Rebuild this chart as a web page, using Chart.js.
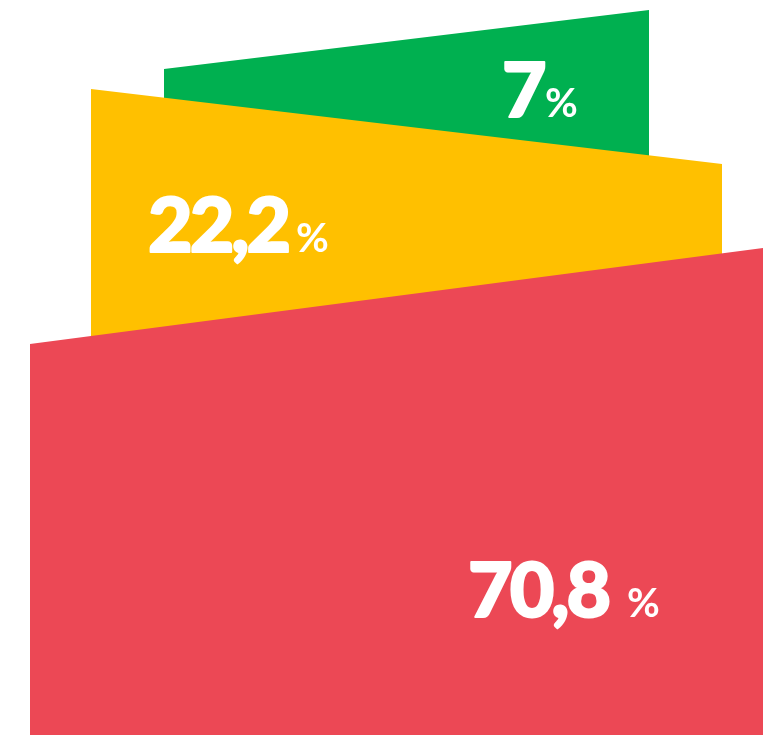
<!DOCTYPE html>
<html>
<head>
<meta charset="utf-8">
<script src="https://cdn.jsdelivr.net/npm/chart.js@4/dist/chart.umd.min.js"></script>
<style>
  html, body { margin: 0; padding: 0; background: #fff; }
  #wrap { width: 763px; height: 735px; position: relative; }
</style>
</head>
<body>
<div id="wrap"><canvas id="shares"></canvas></div>
<script>
// values shown on the slabs (top of file, plain arrays)
const labels = ['70,8', '22,2', '7'];
const shares = [70.8, 22.2, 7];
const colors = ['#EC4855', '#FFC000', '#00B050'];

// each slab is a slanted line filled down to the bottom of the plot
// (plot units: x 0..763 left to right, y 0..735 bottom to top)
const slabLeft = [30, 91, 164];
const slabRight = [763, 722, 649];
const topAtLeft = [391, 646, 666];
const topAtRight = [487, 571, 725];

// where the number label sits (left edge, baseline)
const labelX = [468, 148, 502];
const labelY = [118, 483, 618];
// left edge of the "%" sign
const pctX = [627, 296, 545];

const datasets = labels.map((name, i) => ({
  label: name + ' %',
  data: [
    { x: slabLeft[i], y: topAtLeft[i] },
    { x: slabRight[i], y: topAtRight[i] }
  ],
  showLine: true,
  fill: 'start',
  backgroundColor: colors[i],
  borderColor: colors[i],
  borderWidth: 0,
  pointRadius: 0,
  tension: 0,
  order: i
}));

// writes "70,8 %" etc on each slab
const shareLabels = {
  id: 'shareLabels',
  afterDatasetsDraw(chart) {
    const ctx = chart.ctx;
    const xs = chart.scales.x, ys = chart.scales.y;
    ctx.save();
    ctx.fillStyle = '#fff';
    ctx.strokeStyle = '#fff';
    ctx.lineJoin = 'round';
    ctx.textBaseline = 'alphabetic';
    ctx.textAlign = 'left';
    labels.forEach((txt, i) => {
      const px = xs.getPixelForValue(labelX[i]);
      const py = ys.getPixelForValue(labelY[i]);
      ctx.font = '900 77px Lato, "Noto Sans", sans-serif';
      ctx.letterSpacing = '-3px';
      ctx.lineWidth = 2;
      ctx.fillText(txt, px, py);
      ctx.strokeText(txt, px, py);
      ctx.font = '700 40px Lato, "Noto Sans", sans-serif';
      ctx.letterSpacing = '0px';
      ctx.fillText('%', xs.getPixelForValue(pctX[i]), py);
    });
    ctx.restore();
  }
};

new Chart(document.getElementById('shares'), {
  type: 'scatter',
  data: { datasets },
  options: {
    responsive: true,
    maintainAspectRatio: false,
    animation: false,
    layout: { padding: 0 },
    plugins: { legend: { display: false }, tooltip: { enabled: false } },
    scales: {
      x: { type: 'linear', min: 0, max: 763, display: false },
      y: { type: 'linear', min: 0, max: 735, display: false }
    }
  },
  plugins: [shareLabels]
});
</script>
</body>
</html>
